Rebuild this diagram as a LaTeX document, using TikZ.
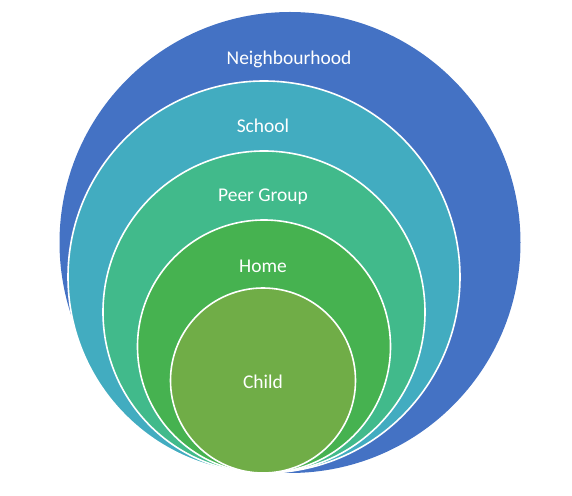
\documentclass[tikz,border=0pt]{standalone}
\usepackage{fontspec}
\setmainfont{Carlito}
\definecolor{nbhdblue}{HTML}{4472C4}
\definecolor{schoolteal}{HTML}{42ACC0}
\definecolor{peergreen}{HTML}{41BA8B}
\definecolor{homegreen}{HTML}{46B250}
\definecolor{childgreen}{HTML}{70AD47}
\tikzset{
    ring/.style={draw=white, line width=1.2pt},
    ringlabel/.style={text=white, font=\fontsize{14.6}{17}\selectfont,
        text height=1.5ex, text depth=0.45ex}
}
\begin{document}
\begin{tikzpicture}[x=0.75pt, y=0.75pt]
    \useasboundingbox (0,0) rectangle (572,496);

% neighbourhood
    \fill[nbhdblue] (290,253.5) circle [radius=230.5];
% school
    \filldraw[ring, fill=schoolteal] (264,219) circle [radius=196];
% peer group
    \filldraw[ring, fill=peergreen] (264,184) circle [radius=161];
% home
    \filldraw[ring, fill=homegreen] (264,149.5) circle [radius=126.5];
% child
    \filldraw[ring, fill=childgreen] (263,115.5) circle [radius=92.5];

% labels
    \node[ringlabel] (nbhd) at (289,435) {Neighbourhood};
    \node[ringlabel] (school) at (263,367) {School};
    \node[ringlabel] (peer) at (263,298) {Peer Group};
    \node[ringlabel] (home) at (263,227) {Home};
    \node[ringlabel] (child) at (263,111) {Child};

\end{tikzpicture}
\end{document}
